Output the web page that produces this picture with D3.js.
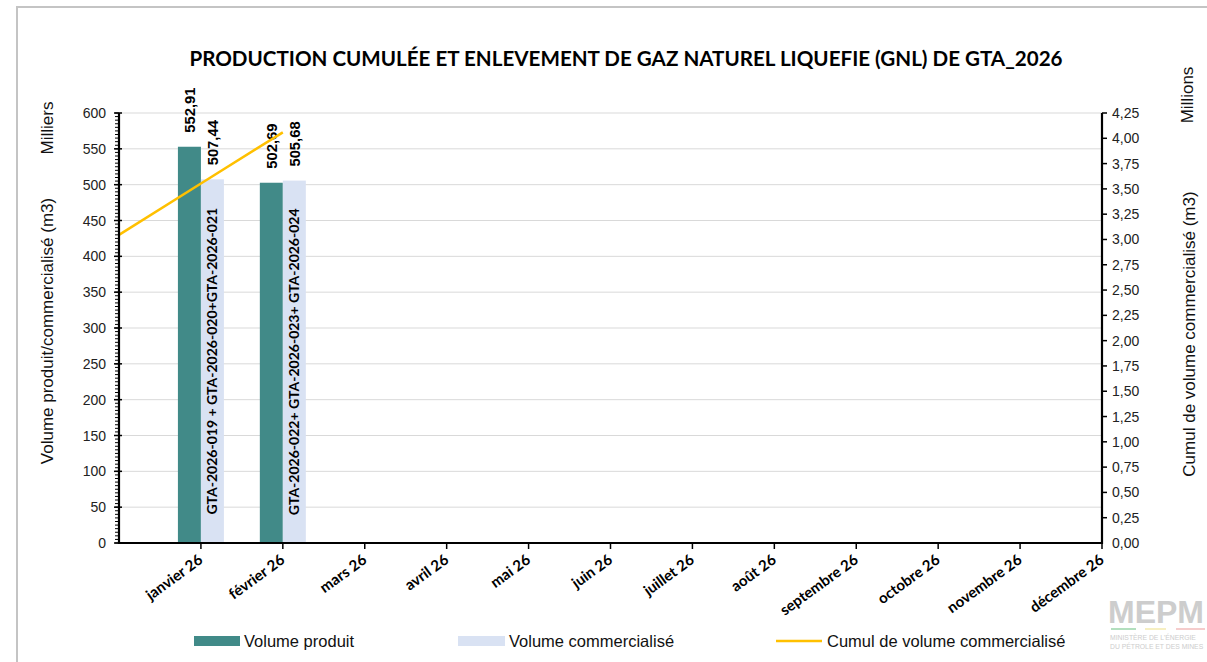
<!DOCTYPE html>
<html><head><meta charset="utf-8">
<script src="https://cdn.jsdelivr.net/npm/d3@7"></script>
<style>body{margin:0;background:#fff;}svg{display:block;}</style>
</head><body>
<script>
const title = "PRODUCTION CUMULÉE ET ENLEVEMENT DE GAZ NATUREL LIQUEFIE (GNL) DE GTA_2026";
const months = ["janvier 26","février 26","mars 26","avril 26","mai 26","juin 26","juillet 26","août 26","septembre 26","octobre 26","novembre 26","décembre 26"];
const startKey = "décembre 25";
const produit = [552.91, 502.69];
const commercialise = [507.44, 505.68];
const cargoLabels = ["GTA-2026-019 + GTA-2026-020+GTA-2026-021", "GTA-2026-022+ GTA-2026-023+ GTA-2026-024"];
const cumulKeys = ["décembre 25","janvier 26","février 26"];
const cumul = [3.046, 3.553, 4.059];
const leftTicks = [0,50,100,150,200,250,300,350,400,450,500,550,600];
const rightTicks = d3.range(0, 4.2501, 0.25);

const W = 1207, H = 662;
const svg = d3.select("body").append("svg").attr("width", W).attr("height", H);
svg.append("rect").attr("x",17).attr("y",7).attr("width",1300).attr("height",800)
  .attr("fill","none").attr("stroke","#c4c4c4").attr("stroke-width",2);

const x0 = 119, x1 = 1102, yTop = 113, yBot = 543;
const x = d3.scalePoint().domain([startKey, ...months]).range([x0, x1]);
const yL = d3.scaleLinear().domain([0,600]).range([yBot, yTop]);
const yR = d3.scaleLinear().domain([0,4.25]).range([yBot, yTop]);
const barW = 23;

// title
svg.append("text").attr("x",626).attr("y",66).attr("text-anchor","middle")
  .style("font-family","Lato").style("font-weight","bold").style("font-size","20.6px").text(title);

// gridlines
svg.append("g").selectAll("line").data(leftTicks.slice(1)).join("line")
  .attr("x1",x0).attr("x2",x1).attr("y1",d=>yL(d)).attr("y2",d=>yL(d))
  .attr("stroke","#d9d9d9").attr("stroke-width",1);

// bars
const gBars = svg.append("g");
gBars.selectAll("rect.p").data(produit).join("rect").attr("class","p")
  .attr("x",(d,i)=>x(months[i])-barW).attr("width",barW)
  .attr("y",d=>yL(d)).attr("height",d=>yBot-yL(d)).attr("fill","#418a88");
gBars.selectAll("rect.c").data(commercialise).join("rect").attr("class","c")
  .attr("x",(d,i)=>x(months[i])).attr("width",barW)
  .attr("y",d=>yL(d)).attr("height",d=>yBot-yL(d)).attr("fill","#d9e2f3");

// value labels
const fmt = v => v.toFixed(2).replace(".", ",");
function valLabel(data, off){
  svg.append("g").selectAll("text").data(data).join("text")
    .attr("transform",(d,i)=>`translate(${x(months[i])+off+5.5},${yL(d)-14}) rotate(-90)`)
    .style("font-family","Liberation Sans").style("font-weight","bold").style("font-size","14.8px")
    .text(d=>fmt(d));
}
valLabel(produit, -barW/2);
valLabel(commercialise, barW/2);

// inside labels
svg.append("g").selectAll("text").data(cargoLabels).join("text")
  .attr("transform",(d,i)=>`translate(${x(months[i])+barW/2+5},${(yL(commercialise[i])+yBot)/2}) rotate(-90)`)
  .attr("text-anchor","middle")
  .style("font-family","Lato").style("font-weight","bold").style("font-size","14px")
  .text(d=>d);

// cumul line
svg.append("path").datum(cumul)
  .attr("d", d3.line().x((d,i)=>x(cumulKeys[i])).y(d=>yR(d)))
  .attr("fill","none").attr("stroke","#ffc000").attr("stroke-width",2.5);

// left axis
const gL = svg.append("g");
gL.selectAll("line.minor").data(d3.range(0,601,5)).join("line")
  .attr("x1",x0-4).attr("x2",x0).attr("y1",d=>yL(d)).attr("y2",d=>yL(d))
  .attr("stroke","#000").attr("stroke-width",1);
gL.selectAll("line.major").data(leftTicks).join("line")
  .attr("x1",x0-5).attr("x2",x0+3).attr("y1",d=>yL(d)).attr("y2",d=>yL(d))
  .attr("stroke","#000").attr("stroke-width",1.5);
gL.append("line").attr("x1",x0).attr("x2",x0).attr("y1",yTop).attr("y2",yBot+1).attr("stroke","#000").attr("stroke-width",2.2);
gL.selectAll("text").data(leftTicks).join("text")
  .attr("x",x0-13).attr("y",d=>yL(d)+5).attr("text-anchor","end")
  .style("font-family","Liberation Sans").style("font-size","14px").attr("fill","#222").text(d=>d);

// right axis
const gR = svg.append("g");
gR.append("line").attr("x1",x1).attr("x2",x1).attr("y1",yTop).attr("y2",yBot+1).attr("stroke","#000").attr("stroke-width",2.2);
gR.selectAll("line").data(rightTicks).join("line").filter(function(){return !this.getAttribute("x1");})
  .attr("x1",x1).attr("x2",x1+5).attr("y1",d=>yR(d)).attr("y2",d=>yR(d)).attr("stroke","#000").attr("stroke-width",1.5);
gR.selectAll("text").data(rightTicks).join("text")
  .attr("x",x1+10).attr("y",d=>yR(d)+5)
  .style("font-family","Liberation Sans").style("font-size","14px").attr("fill","#222")
  .text(d=>d.toFixed(2).replace(".", ","));

// x axis
const gX = svg.append("g");
gX.append("line").attr("x1",x0-1).attr("x2",x1+1).attr("y1",yBot).attr("y2",yBot).attr("stroke","#000").attr("stroke-width",2.2);
gX.selectAll("line").data(x.domain()).join("line").filter(function(){return !this.getAttribute("x1");})
  .attr("x1",d=>x(d)).attr("x2",d=>x(d)).attr("y1",yBot).attr("y2",yBot+6).attr("stroke","#000").attr("stroke-width",1.5);
gX.selectAll("text").data(months).join("text")
  .attr("transform",d=>`translate(${x(d)+3},${yBot+19}) rotate(-36)`)
  .attr("text-anchor","end")
  .style("font-family","Lato").style("font-weight","bold").style("font-size","15px").text(d=>d);

// axis titles
function vtext(tx, ty, t){
  svg.append("text").attr("transform",`translate(${tx},${ty}) rotate(-90)`).attr("text-anchor","middle")
    .style("font-family","Liberation Sans").style("font-size","17px").attr("fill","#111").text(t);
}
vtext(53, 128, "Milliers");
vtext(53, 331, "Volume produit/commercialisé (m3)");
vtext(1193, 95, "Millions");
vtext(1195, 334, "Cumul de volume commercialisé  (m3)");

// legend
const lg = svg.append("g").style("font-family","Liberation Sans").style("font-size","16.5px").attr("fill","#111");
lg.append("rect").attr("x",194).attr("y",636).attr("width",46).attr("height",10).attr("fill","#418a88");
lg.append("text").attr("x",244).attr("y",647).text("Volume produit");
lg.append("rect").attr("x",458).attr("y",636).attr("width",47).attr("height",10).attr("fill","#d9e2f3");
lg.append("text").attr("x",509).attr("y",647).text("Volume commercialisé");
lg.append("line").attr("x1",776).attr("x2",822).attr("y1",641).attr("y2",641).attr("stroke","#ffc000").attr("stroke-width",2.5);
lg.append("text").attr("x",827).attr("y",647).text("Cumul de volume commercialisé");

// logo
const logo = svg.append("g").attr("opacity",0.9);
logo.append("text").attr("x",1108).attr("y",623).style("font-family","Liberation Sans").style("font-weight","bold")
  .style("font-size","32px").attr("fill","#c8c8c8").text("MEPM");
[["#8fd1a0",1111,1136],["#f3e9a6",1145,1166],["#f2b5b5",1176,1205]].forEach(([c,a,b])=>
  logo.append("line").attr("x1",a).attr("x2",b).attr("y1",629).attr("y2",629).attr("stroke",c).attr("stroke-width",1.5));
logo.append("text").attr("x",1110).attr("y",640).style("font-family","Liberation Sans").style("font-size","6.8px").attr("fill","#c8c8c8").text("MINISTÈRE DE L'ÉNERGIE");
logo.append("text").attr("x",1110).attr("y",649).style("font-family","Liberation Sans").style("font-size","6.8px").attr("fill","#c8c8c8").text("DU PÉTROLE ET DES MINES");
</script>
</body></html>
